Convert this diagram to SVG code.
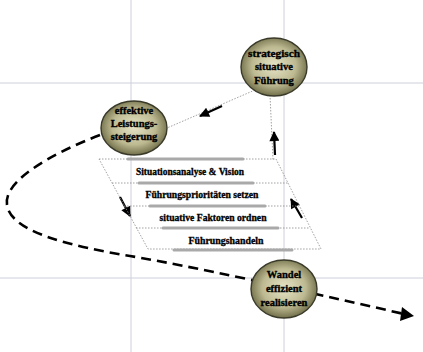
<svg xmlns="http://www.w3.org/2000/svg" width="423" height="352" viewBox="0 0 423 352">
<defs>
<radialGradient id="ball" cx="50%" cy="48%" r="55%">
<stop offset="0" stop-color="#e6e4c6"/>
<stop offset="0.6" stop-color="#bdba92"/>
<stop offset="1" stop-color="#66643f"/>
</radialGradient>
<marker id="ahs" viewBox="0 0 10 10" refX="9" refY="5" markerWidth="12" markerHeight="10" markerUnits="userSpaceOnUse" orient="auto">
<path d="M0,0 L10,5 L0,10 Z" fill="#000"/>
</marker>
</defs>
<style>
.grid{stroke:#cdd0da;stroke-width:1;fill:none}
.dot{stroke:#8a8a8a;stroke-width:0.8;stroke-dasharray:1.5 1.5;fill:none}
.bar{stroke:#a9a9a9;stroke-width:3;stroke-linecap:round}
.arr{stroke:#000;stroke-width:2.2;fill:none;marker-end:url(#ahs)}
.dash{stroke:#000;stroke-width:2.6;fill:none;stroke-dasharray:10 6}
.ball{fill:url(#ball);stroke:#3a3a2a;stroke-width:1.4}
.nt{font-family:"Liberation Serif",serif;font-weight:bold;font-size:10.5px;fill:#000;stroke:#000;stroke-width:0.35;text-anchor:middle}
.st{font-family:"Liberation Serif",serif;font-weight:bold;font-size:9.5px;fill:#000;stroke:#000;stroke-width:0.3;text-anchor:middle}
</style>
<rect width="423" height="352" fill="#fff"/>
<g id="grid">
<line class="grid" x1="131" y1="0" x2="131" y2="352"/>
<line class="grid" x1="284" y1="0" x2="284" y2="352"/>
<line class="grid" x1="0" y1="83" x2="423" y2="83"/>
<line class="grid" x1="0" y1="278" x2="423" y2="278"/>
</g>
<g id="connectors">
<path class="dash" d="M100,135 C48,155 3,182 7,205 C11,232 70,246 130,256 C190,266 300,290 404,314"/>
<path d="M402,307 L414,316 L400,321 Z" fill="#000"/>
<line class="dot" x1="255" y1="90" x2="167" y2="128"/>
<line class="arr" x1="222" y1="106" x2="200" y2="116"/>
<line class="dot" x1="270" y1="95" x2="273" y2="160"/>
<line class="arr" x1="275" y1="155" x2="274" y2="132"/>
<line class="arr" x1="120" y1="197" x2="130" y2="216"/>
<line class="arr" x1="302" y1="218" x2="291" y2="199"/>
</g>
<g id="process">
<path class="dot" d="M99,159 L276,159 L321,249 L148,249 Z"/>
<line class="dot" x1="112" y1="183" x2="288" y2="183"/>
<line class="dot" x1="124" y1="206" x2="299" y2="206"/>
<line class="dot" x1="136" y1="228" x2="310" y2="228"/>
<line class="bar" x1="128" y1="159" x2="243" y2="159"/>
<line class="bar" x1="139" y1="183" x2="253" y2="183"/>
<line class="bar" x1="150" y1="206" x2="265" y2="206"/>
<line class="bar" x1="163" y1="228" x2="278" y2="228"/>
<line class="bar" x1="174" y1="250" x2="292" y2="250"/>
<g id="step1"><text class="st" x="190" y="175" textLength="108" lengthAdjust="spacingAndGlyphs">Situationsanalyse &amp; Vision</text></g>
<g id="step2"><text class="st" x="202" y="198" textLength="113" lengthAdjust="spacingAndGlyphs">Führungsprioritäten setzen</text></g>
<g id="step3"><text class="st" x="213" y="221" textLength="107" lengthAdjust="spacingAndGlyphs">situative Faktoren ordnen</text></g>
<g id="step4"><text class="st" x="226" y="244" textLength="75" lengthAdjust="spacingAndGlyphs">Führungshandeln</text></g>
</g>
<g id="n-strategisch">
<ellipse class="ball" cx="274" cy="67" rx="33" ry="29"/>
<text class="nt" x="274" y="57" textLength="52" lengthAdjust="spacingAndGlyphs">strategisch</text>
<text class="nt" x="274" y="70">situative</text>
<text class="nt" x="274" y="84">Führung</text>
</g>
<g id="n-effektive">
<ellipse class="ball" cx="134" cy="128" rx="33" ry="27"/>
<text class="nt" x="134" y="114">effektive</text>
<text class="nt" x="134" y="127">Leistungs-</text>
<text class="nt" x="134" y="140">steigerung</text>
</g>
<g id="n-wandel">
<ellipse class="ball" cx="284" cy="289" rx="33" ry="29"/>
<text class="nt" x="284" y="278">Wandel</text>
<text class="nt" x="284" y="292">effizient</text>
<text class="nt" x="284" y="306">realisieren</text>
</g>
</svg>
